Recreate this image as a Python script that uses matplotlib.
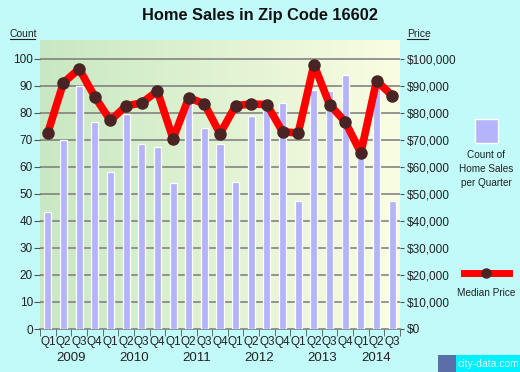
import matplotlib.pyplot as plt
import numpy as np
from matplotlib.colors import LinearSegmentedColormap
from matplotlib.lines import Line2D
from matplotlib.patches import Rectangle

plt.rcParams['font.family'] = ['Liberation Sans', 'DejaVu Sans']

# Data
quarters = ['Q1', 'Q2', 'Q3', 'Q4'] * 5 + ['Q1', 'Q2', 'Q3']
years = ['2009', '2010', '2011', '2012', '2013', '2014']
sales_count = [43.5, 70, 90, 76.5, 58, 79.5, 68.5, 67.5, 54, 86.5, 74.5, 68.5,
               54.5, 79, 84.5, 83.5, 47.5, 88.5, 88, 94, 64, 90, 47.5]
median_price = [72700, 91200, 96300, 86000, 77200, 82600, 83700, 88100, 70400,
                85600, 83400, 72300, 82700, 83300, 83100, 73000, 72600, 97900,
                83100, 76700, 65200, 91900, 86400]

bg = '#c2f9f9'
bar_color = '#b4b4fa'
fig = plt.figure(figsize=(5.2, 3.72), dpi=100, facecolor=bg)
ax = fig.add_axes([40 / 520, 43 / 372, 360 / 520, 289 / 372])
ax2 = ax.twinx()

n = len(sales_count)
x = np.arange(n)
ymax = 107

# gradient background
grad = LinearSegmentedColormap.from_list('g', ['#c8e8c2', '#fafde2'])
ax.imshow(np.linspace(0, 1, 256).reshape(1, -1), cmap=grad, aspect='auto',
          extent=[-0.5, n - 0.5, 0, ymax], zorder=0)

for v in range(10, 101, 10):
    ax.axhline(v, color='#7a7a7a', lw=1.1, zorder=1)

ax.bar(x, sales_count, width=0.45, color=bar_color, edgecolor='white',
       linewidth=0.9, zorder=2)
ax2.plot(x, median_price, color='#ff0000', lw=5.5, zorder=3,
         solid_capstyle='round', solid_joinstyle='round')
ax2.plot(x, median_price, 'o', color='#4a2424', ms=8, zorder=4)

ax.set_xlim(-0.5, n - 0.5)
ax.set_ylim(0, ymax)
ax2.set_ylim(0, ymax * 1000)
ax.set_zorder(1)
ax2.set_zorder(2)
ax2.patch.set_visible(False)

for a in (ax, ax2):
    for s in a.spines.values():
        s.set_visible(False)

ax.set_yticks(range(0, 101, 10))
ax.tick_params(axis='y', length=4, color='#555555', labelsize=8.5, pad=1,
               labelcolor='#222222')
ax2.set_yticks(range(0, 100001, 10000))
ax2.set_yticklabels(['$' + format(v, ',') for v in range(0, 100001, 10000)])
ax2.tick_params(axis='y', length=3, color='#555555', labelsize=8.5, pad=2,
                labelcolor='#222222')

ax.set_xticks(x)
ax.set_xticklabels(quarters)
ax.set_xticks(np.arange(-0.5, n, 1), minor=True)
ax.tick_params(axis='x', which='major', length=0, labelsize=8.5, pad=5,
               labelcolor='#222222')
ax.tick_params(axis='x', which='minor', length=5, color='#555555')
ax.axhline(0, color='#7a7a7a', lw=1.1, zorder=1, clip_on=False)

# year labels
starts = [0, 4, 8, 12, 16, 20]
for yr, s in zip(years, starts):
    e = min(s + 4, n)
    ax.text((s + e - 1) / 2, -0.1, yr, transform=ax.get_xaxis_transform(),
            ha='center', va='center', fontsize=9.5, color='#222222')

fig.text(0.5, 0.958, 'Home Sales in Zip Code 16602', ha='center', va='center',
         fontsize=11.8, fontweight='bold', color='#111111')
fig.text(10 / 520, 1 - 34 / 372, 'Count', ha='left', va='center', fontsize=7.5,
         color='#222222')
fig.add_artist(Line2D([10 / 520, 35 / 520], [1 - 39 / 372] * 2, color='#222222', lw=0.8))
fig.text(407 / 520, 1 - 34 / 372, 'Price', ha='left', va='center', fontsize=7.5,
         color='#222222')
fig.add_artist(Line2D([407 / 520, 428 / 520], [1 - 39 / 372] * 2, color='#222222', lw=0.8))

# legend
fig.add_artist(Rectangle((475 / 520, 1 - 143 / 372), 23 / 520, 24 / 372,
                         facecolor=bar_color, edgecolor='white', lw=1,
                         transform=fig.transFigure))
fig.text(486 / 520, 1 - 169 / 372, 'Count of\nHome Sales\nper Quarter',
         ha='center', va='center', fontsize=7.2, color='#222222',
         linespacing=1.5)
fig.add_artist(Line2D([464 / 520, 509 / 520], [1 - 273 / 372] * 2,
                      color='#ff0000', lw=5))
fig.add_artist(Line2D([486 / 520], [1 - 273 / 372], marker='o', ms=6.5,
                      color='#4a2424'))
fig.text(486 / 520, 1 - 293 / 372, 'Median Price', ha='center', va='center',
         fontsize=7.2, color='#222222')

# watermark
fig.add_artist(Rectangle((456 / 520, 0), 64 / 520, 17 / 372,
                         facecolor='#00f0ff', edgecolor='none',
                         transform=fig.transFigure))
fig.add_artist(Rectangle((438 / 520, 0), 18 / 520, 17 / 372,
                         facecolor='#5a6fa8', edgecolor='none',
                         transform=fig.transFigure))
fig.text(488 / 520, 8 / 372, 'city-data.com', ha='center', va='center',
         fontsize=7.5, color='#eeeeee')

fig.savefig('out.png', dpi=100, facecolor=bg)
